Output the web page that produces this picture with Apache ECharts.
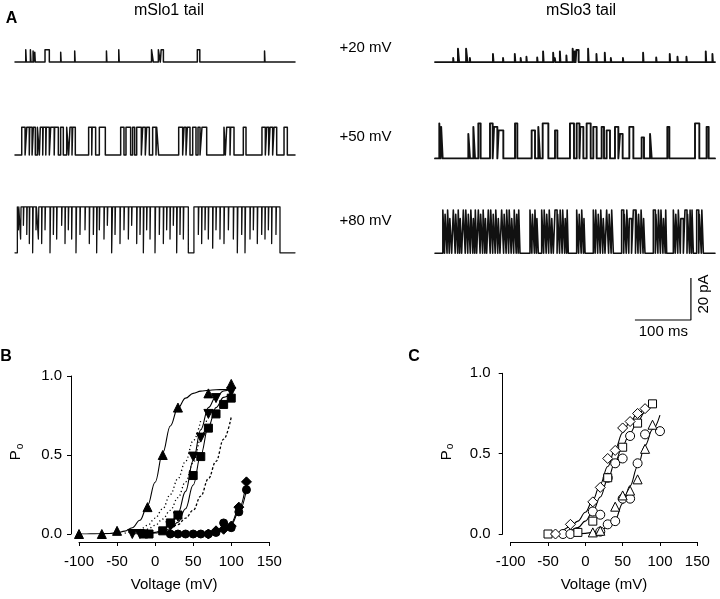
<!DOCTYPE html>
<html>
<head>
<meta charset="utf-8">
<script src="https://cdn.jsdelivr.net/npm/echarts/dist/echarts.min.js"></script>
<style>
html,body{margin:0;padding:0;background:#fff;}
#chart{width:720px;height:599px;}
</style>
</head>
<body>
<div id="chart"></div>
<script>
// ---------------- DATA ----------------
// Panel A: single-channel tail currents. Time in ms (0-500); openings as [start, end, fraction of unitary amplitude]
const traceVoltages = ['+20 mV', '+50 mV', '+80 mV'];
const unitaryAmp_mSlo1 = [5.9, 13.2, 21.9];   // pA
const unitaryAmp_mSlo3 = [6.4, 16.7, 20.6];   // pA

const mSlo1_20mV_openings = [[19.2,20.2],[27.5,28.5],[32.3,33.2,0.9],[35.3,36.2,0.8],[53.6,61.3],[81.6,82.4,0.8],[106.6,107.4,0.9],[163.3,164.1,0.9],[185.3,186.1],[243.8,247],[256,259.5],[261,265],[325.6,330],[445.6,446.4,0.9]];

const mSlo1_50mV_openings = [[12,18],[21,25.5],[26.3,30.5],[32.7,36.3],[40,43.5],[45.2,49.5],[50.3,55],[55.8,61.3],[63.7,70],[70.8,77.4],[81.5,86.3],[92.3,95.8],[98.2,101.8],[103,107.7],[131.5,137],[137.8,144],[150.6,161.3],[188.7,194.6],[198.2,206.5],[210.1,213.7],[217.3,225.6],[228,232.7],[235.1,239.9],[245.8,251.8],[253,256.5],[292.3,299.4],[301.8,305.4],[307.7,312.5],[317.3,323.2],[326.8,330.4],[333.9,342.3],[373.2,375.6],[378,384],[385.1,391.1],[407.7,412.5],[441,447],[449.4,453],[455.4,460.1],[462.5,467.3],[480.4,486.3]];

// +80 mV mSlo1: channel open for most of the sweep; brief closings as [time, duration, residual level]
const mSlo1_80mV_openSpan = [4.2, 473.2];
const mSlo1_80mV_closings = [[6,0.8,0.5],[10,0.8,0.3],[15,0.8,0.6],[21,0.8,0.4],[25.6,0.8,0.2],[31.5,1,0],[37.5,0.8,0.5],[41.7,0.8,0.3],[47.6,0.8,0.2],[53.6,0.8,0.5],[62.5,1,0],[68.5,0.8,0.4],[74.4,0.8,0.3],[83.3,0.8,0.6],[89.3,0.8,0.2],[95.2,0.8,0.5],[101.2,0.8,0.3],[108.9,1,0],[116,0.8,0.4],[125,0.8,0.5],[132.7,0.8,0.2],[139.9,0.8,0.4],[145.8,1,0],[150.6,0.8,0.5],[158.9,0.8,0.3],[164.9,0.8,0.6],[172.6,1.5,0],[178.6,0.8,0.4],[187.5,0.8,0.2],[194.6,0.8,0.5],[202.4,0.8,0.3],[208.3,0.8,0.6],[217.3,0.8,0.2],[223.2,0.8,0.4],[229.2,1,0],[235.1,0.8,0.5],[241.1,0.8,0.3],[250,1,0],[257.7,0.8,0.4],[264.9,0.8,0.2],[270.8,0.8,0.5],[276.8,0.8,0.3],[282.7,0.8,0.6],[288.7,1,0],[294.6,0.8,0.4],[300.6,0.8,0.3],[309.5,10,0],[327.4,0.8,0.4],[333.3,0.8,0.2],[339.3,0.8,0.5],[345.2,0.8,0.3],[353,0.8,0.1],[358.9,0.8,0.5],[366,0.8,0.3],[373.2,0.8,0.2],[381,0.8,0.5],[389.9,0.8,0.3],[397,1,0],[404.8,0.8,0.4],[410.7,1,0],[419.6,0.8,0.3],[425.6,0.8,0.5],[432.7,0.8,0.2],[440.5,0.8,0.4],[446.4,0.8,0.3],[452.4,0.8,0.5],[458.3,0.8,0.2],[466,0.8,0.4]];

const mSlo3_20mV_openings = [[32.5,33.2,0.3],[41,43],[55.5,58],[62.3,63,0.3],[103.5,104.5,0.6],[121.5,122.3,0.3],[142.5,143.5,0.6],[153,153.8,0.3],[163.3,164.1,0.4],[182.5,183.3,0.35],[193,194,0.8],[211,212,0.7],[214,215,0.3],[223,224,0.8],[234.6,235.4,0.5],[245.8,248.5],[249.5,251,0.8],[252.5,256.5,0.9],[273.4,274.4],[288.3,289.1,0.6],[303.2,304,0.7],[314,314.8,0.3],[335.6,336.4,0.3],[371.6,372.4,0.7],[395,395.8,0.35],[419.2,420,0.6],[433,433.8,0.4],[449,449.8,0.4],[483.5,484.3,0.8],[495.4,496.2,0.6]];

const mSlo3_50mV_openings = [[7.7,10,1],[11,13.7,0.9],[59.5,62.5,0.7],[68.5,71.4,0.9],[77.4,81.5,1],[98.2,103,1],[105.4,111.3,0.9],[113.7,122,0.8],[142.9,147,1],[172.6,178.6,0.8],[184.5,187.5,0.9],[192.3,202.4,1],[214.3,218.5,0.8],[241,248.2,1],[253,258,1],[259.5,264.9,0.9],[270.8,278,1],[282.7,288.7,0.9],[297.6,301.8,0.9],[306.5,312.5,0.8],[321.4,327.4,0.9],[330.4,335.1,0.7],[347,354.2,0.9],[369,373.2,0.6],[384,386.9,0.7],[414.9,418.5,0.9],[464.3,472,1],[485,488.7,0.9]];

const mSlo3_80mV_openings = [[14,17],[18,21.5,0.9],[22.5,25.5],[26.5,29.8,0.8],[32.7,36],[37,40.5,0.9],[41.5,44],[45,47.6,0.8],[50.6,54],[55,58.5],[59.5,63,0.9],[64,67.5],[68.5,71,0.8],[72,74.4],[77.4,80.5],[81.5,85,0.9],[86,89],[90,92.3,0.8],[95.2,98.5],[99.5,103],[104,107.5,0.9],[108.5,112],[113,116,0.8],[119,122.5],[123.5,127,0.9],[128,131.5],[132.5,136],[137,140.5,0.8],[141.5,145],[146,148.5,0.9],[149.5,151.8],[169.6,173],[174,177.5,0.9],[178.5,181],[182,184.5,0.8],[190.5,194],[195,198.5],[199.5,203,0.9],[204,207.5],[208.5,211.3,0.8],[214.3,218],[219,222.5,0.9],[223.5,227],[228,231.5],[232.5,235,0.8],[236,238],[253,256.5],[257.5,261,0.9],[262,265],[266,268,0.8],[282.7,286],[287,290.5],[291.5,295,0.9],[296,299.5],[300.5,303.6,0.8],[306.5,310],[311,314.5,0.9],[315.5,318.5],[333.3,337],[338,341.5,0.9],[342.5,346],[347,351,0.8],[354.2,358],[359,362.5],[363.5,367,0.9],[368,371.5],[372.5,375,0.8],[389.9,393.5],[394.5,398,0.9],[399,402.5],[403.5,407],[408,411,0.8],[412,413.7],[425.6,429],[430,433.5,0.9],[434.5,438],[439,443.5,0.8],[446.4,450],[451,454.5,0.9],[455.5,458],[459,461.3],[467.3,471],[472,475.5,0.9],[476.5,479.2]];

const scaleBarTime = 100;    // ms
const scaleBarCurrent = 20;  // pA

// Panel B (mSlo1): Po vs voltage (mV)
const voltB_upTri = [-100,-70,-50,-10,10,30,70,100];
const poB_upTri   = [0.0,0.0,0.02,0.17,0.50,0.80,0.89,0.95];
const voltB_downTri = [-30,-20,20,30,50,60,70,80,100];
const poB_downTri   = [0.0,0.0,0.05,0.11,0.49,0.61,0.76,0.86,0.90];
const voltB_square = [-15,-8,10,20,30,50,60,70,80,90,100];
const poB_square   = [0.0,0.0,0.02,0.07,0.12,0.37,0.49,0.67,0.76,0.82,0.86];
const voltB_circle = [20,30,40,50,60,70,80,90,100,110,120];
const poB_circle   = [0.0,0.0,0.0,0.0,0.0,0.0,0.01,0.07,0.04,0.14,0.28];
const voltB_diamond = [70,80,90,100,110,120];
const poB_diamond   = [0.0,0.02,0.03,0.05,0.17,0.33];

const fitVoltB_upTri = [-100,-90,-80,-70,-60,-50,-40,-30,-20,-10,0,10,20,30,40,50,60,70,80,90,100];
const fitPoB_upTri   = [0.0,0.0,0.001,0.002,0.003,0.008,0.018,0.040,0.087,0.179,0.328,0.514,0.684,0.798,0.860,0.890,0.904,0.910,0.913,0.914,0.915];
const fitVoltB_downTri = [-30,-20,-10,0,10,20,30,40,50,60,70,80,90,100];
const fitPoB_downTri   = [0.001,0.002,0.004,0.010,0.024,0.057,0.13,0.27,0.465,0.66,0.80,0.87,0.905,0.92];
const fitVoltB_square = [-20,-10,0,10,20,30,40,50,60,70,80,90,100];
const fitPoB_square   = [0.001,0.0025,0.006,0.014,0.033,0.074,0.16,0.31,0.50,0.68,0.80,0.865,0.895];
const fitVoltB_circle = [20,30,40,50,60,70,80,90,100,110,120];
const fitPoB_circle   = [0,0,0,0,0,0.002,0.008,0.025,0.06,0.14,0.28];
const fitVoltB_diamond = [60,70,80,90,100,110,120];
const fitPoB_diamond   = [0,0.003,0.01,0.03,0.07,0.16,0.33];
const dotVoltB_1 = [-40,-30,-20,-10,0,10,20,30,40,50,60];
const dotPoB_1   = [0.005,0.012,0.028,0.055,0.10,0.16,0.25,0.35,0.46,0.59,0.72];
const dotVoltB_2 = [-30,-20,-10,0,10,20,30,40,50,60,68];
const dotPoB_2   = [0.006,0.014,0.03,0.055,0.095,0.15,0.23,0.33,0.45,0.60,0.73];
const dashVoltB = [20,30,40,50,60,70,80,90,100];
const dashPoB   = [0.03,0.06,0.10,0.15,0.24,0.35,0.46,0.60,0.74];

// Panel C (mSlo3): Po vs voltage (mV)
const voltC_square = [-50,-10,10,30,50,70,90];
const poC_square   = [0.0,0.01,0.08,0.35,0.54,0.69,0.81];
const voltC_diamond = [-40,-20,10,20,30,40,50,60,70,80];
const poC_diamond   = [0.0,0.06,0.20,0.29,0.47,0.52,0.66,0.70,0.75,0.78];
const voltC_circleA = [-30,-20,10,20,30,40,50,60];
const poC_circleA   = [0.0,0.0,0.14,0.12,0.35,0.44,0.47,0.61];
const voltC_triangle = [10,20,40,50,60,70,80,90];
const poC_triangle   = [0.01,0.02,0.17,0.24,0.27,0.34,0.53,0.68];
const voltC_circleB = [20,30,40,50,60,70,80,100];
const poC_circleB   = [0.015,0.06,0.08,0.22,0.22,0.44,0.62,0.64];

const fitVoltC_left = [-30,-20,-10,0,10,20,30,40,50,60,70,80];
const fitPoC_left   = [0.02,0.045,0.08,0.135,0.21,0.31,0.42,0.53,0.63,0.70,0.75,0.79];
const fitVoltC_mid = [-20,-10,0,10,20,30,40,50,60,70,80,90];
const fitPoC_mid   = [0.015,0.04,0.08,0.14,0.23,0.34,0.45,0.55,0.63,0.70,0.76,0.81];
const fitVoltC_right = [-10,0,10,20,30,40,50,60,70,80,90,100];
const fitPoC_right   = [0.0,0.004,0.01,0.02,0.045,0.09,0.19,0.30,0.42,0.55,0.65,0.74];

const voltTicks = [-100, 150, 50];   // min, max, step
const poTicks = [0, 1, 0.5];

// ---------------- LAYOUT (positions / styles) ----------------
const FONT = 'Arial, "Liberation Sans", Helvetica, sans-serif';
const traceRowBase = { left: [127.7, 83.4, 36.8], right: [127.7, 81.8, 36.6] }; // vertical offsets of rows on the stacked pA axis
const scaleBarOrigin = [357, 4.77];

function zip(xs, ys) { return xs.map((x, i) => [x, ys[i]]); }
function stepTrace(openings, amp, base, t0, t1) {
  const pts = [[t0, base]];
  openings.forEach(ev => {
    const f = ev.length > 2 ? ev[2] : 1;
    pts.push([ev[0], base], [ev[0], base + amp * f], [ev[1], base + amp * f], [ev[1], base]);
  });
  pts.push([t1, base]);
  return pts;
}
function closingTrace(span, closings, amp, base, t0, t1) {
  const top = base + amp;
  const pts = [[t0, base], [span[0], base], [span[0], top]];
  closings.forEach(c => {
    const lv = base + amp * c[2];
    pts.push([c[0], top], [c[0], lv], [c[0] + c[1], lv], [c[0] + c[1], top]);
  });
  pts.push([span[1], top], [span[1], base], [t1, base]);
  return pts;
}

const T0 = 0, T1 = 500;
function traceSeries(grid, data, width) {
  return { type: 'line', xAxisIndex: grid, yAxisIndex: grid, data: data, showSymbol: false, symbol: 'none',
    lineStyle: { color: '#111', width: width, join: 'round', cap: 'round' }, silent: true, animation: false, z: 2 };
}
function lineSeries(grid, data, type, width) {
  return { type: 'line', xAxisIndex: grid, yAxisIndex: grid, data: data, showSymbol: false, symbol: 'none',
    smooth: 0.4, smoothMonotone: 'x',
    lineStyle: { color: '#000', width: width || 1.1, type: type || 'solid' }, silent: true, animation: false, z: 2 };
}
function markerSeries(grid, data, symbol, size, filled, rotate) {
  return { type: 'scatter', xAxisIndex: grid, yAxisIndex: grid, data: data, symbol: symbol, symbolSize: size,
    symbolRotate: rotate || 0,
    itemStyle: { color: filled ? '#000' : '#fff', borderColor: '#000', borderWidth: 1, opacity: 1 },
    silent: true, animation: false, z: 5 };
}

function plotXAxis(grid) {
  return { gridIndex: grid, type: 'value', min: voltTicks[0], max: voltTicks[1], interval: voltTicks[2], offset: 8,
    name: 'Voltage (mV)', nameLocation: 'middle', nameGap: 35,
    nameTextStyle: { fontSize: 15, fontFamily: FONT, color: '#000' },
    axisLine: { show: true, onZero: false, lineStyle: { color: '#000', width: 1 } },
    axisTick: { show: true, length: 4, lineStyle: { color: '#000' } },
    axisLabel: { fontSize: 15, fontFamily: FONT, color: '#000', margin: 12 },
    splitLine: { show: false } };
}
function plotYAxis(grid, margin) {
  return { gridIndex: grid, type: 'value', min: poTicks[0], max: poTicks[1], interval: poTicks[2], offset: 8,
    axisLine: { show: true, onZero: false, lineStyle: { color: '#000', width: 1 } },
    axisTick: { show: true, length: 4, lineStyle: { color: '#000' } },
    axisLabel: { fontSize: 15, fontFamily: FONT, color: '#000', margin: margin, formatter: v => v.toFixed(1) },
    splitLine: { show: false } };
}
function hiddenAxisX(grid) { return { gridIndex: grid, type: 'value', min: T0, max: T1, show: false }; }
function hiddenAxisY(grid) { return { gridIndex: grid, type: 'value', min: 0, max: 143, show: false }; }

function txt(x, y, text, size, opts) {
  opts = opts || {};
  return { type: 'text', x: x, y: y, rotation: opts.rotation || 0, silent: true,
    style: { text: text, fontSize: size, fontFamily: FONT, fontWeight: opts.bold ? 'bold' : 'normal', fill: '#000',
      align: opts.align || 'center', verticalAlign: 'middle', textAlign: opts.align || 'center', textVerticalAlign: 'middle',
      rich: opts.rich } };
}
const poRich = { p: { fontSize: 15, fontFamily: FONT, lineHeight: 20, verticalAlign: 'middle' },
                 s: { fontSize: 10, fontFamily: FONT, lineHeight: 20, verticalAlign: 'bottom', padding: [0, 0, 1, 1] } };

const series = [
  traceSeries(0, stepTrace(mSlo1_20mV_openings, unitaryAmp_mSlo1[0], traceRowBase.left[0], T0, T1), 1.5),
  traceSeries(0, stepTrace(mSlo1_50mV_openings, unitaryAmp_mSlo1[1], traceRowBase.left[1], T0, T1), 1.5),
  traceSeries(0, closingTrace(mSlo1_80mV_openSpan, mSlo1_80mV_closings, unitaryAmp_mSlo1[2], traceRowBase.left[2], T0, T1), 1.3),
  traceSeries(1, stepTrace(mSlo3_20mV_openings, unitaryAmp_mSlo3[0], traceRowBase.right[0], T0, T1), 1.9),
  traceSeries(1, stepTrace(mSlo3_50mV_openings, unitaryAmp_mSlo3[1], traceRowBase.right[1], T0, T1), 1.9),
  traceSeries(1, stepTrace(mSlo3_80mV_openings, unitaryAmp_mSlo3[2], traceRowBase.right[2], T0, T1), 1.6),
  { type: 'line', xAxisIndex: 1, yAxisIndex: 1, showSymbol: false, symbol: 'none', animation: false, silent: true,
    lineStyle: { color: '#000', width: 1.2 },
    data: [[scaleBarOrigin[0], scaleBarOrigin[1]], [scaleBarOrigin[0] + scaleBarTime, scaleBarOrigin[1]],
           [scaleBarOrigin[0] + scaleBarTime, scaleBarOrigin[1] + scaleBarCurrent]] },

  // Panel B fits
  lineSeries(2, zip(fitVoltB_upTri, fitPoB_upTri)),
  lineSeries(2, zip(fitVoltB_downTri, fitPoB_downTri)),
  lineSeries(2, zip(fitVoltB_square, fitPoB_square)),
  lineSeries(2, zip(fitVoltB_circle, fitPoB_circle)),
  lineSeries(2, zip(fitVoltB_diamond, fitPoB_diamond)),
  lineSeries(2, zip(dotVoltB_1, dotPoB_1), [1.2, 2.6], 1.3),
  lineSeries(2, zip(dotVoltB_2, dotPoB_2), [1.2, 2.6], 1.3),
  lineSeries(2, zip(dashVoltB, dashPoB), [2.5, 2], 1.3),
  // Panel B markers (filled)
  markerSeries(2, zip(voltB_circle, poB_circle), 'circle', 8, true),
  markerSeries(2, zip(voltB_diamond, poB_diamond), 'diamond', 10, true),
  markerSeries(2, zip(voltB_square, poB_square), 'rect', 8, true),
  markerSeries(2, zip(voltB_downTri, poB_downTri), 'triangle', 9, true, 180),
  markerSeries(2, zip(voltB_upTri, poB_upTri), 'triangle', 9, true),

  // Panel C fits
  lineSeries(3, zip(fitVoltC_left, fitPoC_left)),
  lineSeries(3, zip(fitVoltC_mid, fitPoC_mid)),
  lineSeries(3, zip(fitVoltC_right, fitPoC_right)),
  // Panel C markers (open)
  markerSeries(3, zip(voltC_circleB, poC_circleB), 'circle', 9, false),
  markerSeries(3, zip(voltC_triangle, poC_triangle), 'triangle', 9, false),
  markerSeries(3, zip(voltC_circleA, poC_circleA), 'circle', 9, false),
  markerSeries(3, zip(voltC_square, poC_square), 'rect', 8, false),
  markerSeries(3, zip(voltC_diamond, poC_diamond), 'diamond', 10, false)
];

const option = {
  backgroundColor: '#fff',
  animation: false,
  grid: [
    { left: 15, top: 30, width: 280, height: 300 },
    { left: 435, top: 30, width: 280, height: 300 },
    { left: 79, top: 376, width: 190.3, height: 158 },
    { left: 510.7, top: 373.3, width: 186.6, height: 160.7 }
  ],
  xAxis: [hiddenAxisX(0), hiddenAxisX(1), plotXAxis(2), plotXAxis(3)],
  yAxis: [hiddenAxisY(0), hiddenAxisY(1), plotYAxis(2, 9), plotYAxis(3, 12)],
  series: series,
  graphic: [
    txt(11.5, 19, 'A', 16, { bold: true }),
    txt(169, 11, 'mSlo1 tail', 16),
    txt(581, 11, 'mSlo3 tail', 16),
    txt(365.5, 47.5, traceVoltages[0], 15),
    txt(365.5, 136.7, traceVoltages[1], 15),
    txt(365.5, 221, traceVoltages[2], 15),
    txt(703.5, 294, '20 pA', 15, { rotation: Math.PI / 2 }),
    txt(663.3, 331.7, '100 ms', 15),
    txt(6, 357, 'B', 16, { bold: true }),
    txt(414, 357, 'C', 16, { bold: true }),
    txt(16, 452, '{p|P}{s|o}', 15, { rotation: Math.PI / 2, rich: poRich }),
    txt(446.5, 452, '{p|P}{s|o}', 15, { rotation: Math.PI / 2, rich: poRich })
  ]
};

const chart = echarts.init(document.getElementById('chart'), null, { renderer: 'canvas' });
chart.setOption(option);
</script>
</body>
</html>
